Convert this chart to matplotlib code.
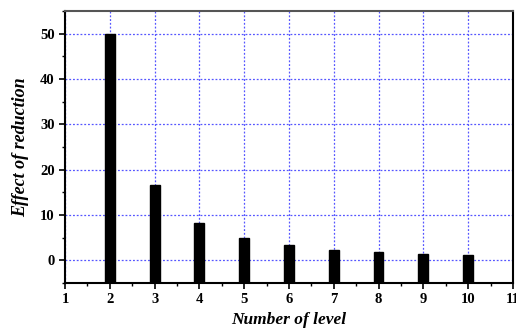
import matplotlib
matplotlib.use("Agg")
import matplotlib.pyplot as plt
from matplotlib.ticker import MultipleLocator

levels = [2, 3, 4, 5, 6, 7, 8, 9, 10]
effect = [50.0, 16.67, 8.33, 5.0, 3.33, 2.38, 1.79, 1.39, 1.11]
x_ticks = [1, 2, 3, 4, 5, 6, 7, 8, 9, 10, 11]
y_ticks = [0, 10, 20, 30, 40, 50]

plt.rcParams['font.family'] = ['Liberation Serif', 'DejaVu Serif']

fig = plt.figure(figsize=(5.16, 3.31), dpi=100)
ax = fig.add_axes([0.126, 0.145, 0.868, 0.822])

ymin = -5
ax.bar(levels, [v - ymin for v in effect], bottom=ymin, width=0.22,
       color='black', edgecolor='black', zorder=3)

ax.set_xlim(1, 11)
ax.set_ylim(ymin, 55)
ax.set_xticks(x_ticks)
ax.set_yticks(y_ticks)
ax.xaxis.set_minor_locator(MultipleLocator(0.5))
ax.yaxis.set_minor_locator(MultipleLocator(5))

ax.grid(True, which='major', color='#5555ff', linestyle=(0, (1.5, 1.5)), linewidth=0.9, zorder=0)
ax.tick_params(which='major', direction='out', length=4, width=1.2, labelsize=10.5)
ax.tick_params(which='minor', direction='out', length=2.5, width=1.0)
ax.tick_params(top=False, right=False)
for lbl in ax.get_xticklabels() + ax.get_yticklabels():
    lbl.set_fontweight('bold')

for s in ax.spines.values():
    s.set_linewidth(1.5)
ax.spines['top'].set_color('#555555')

ax.set_xlabel('Number of level', fontsize=12.5, fontweight='bold', fontstyle='italic', labelpad=4)
ax.set_ylabel('Effect of reduction', fontsize=13, fontweight='bold', fontstyle='italic', labelpad=8)

fig.savefig('out.png', dpi=100)
